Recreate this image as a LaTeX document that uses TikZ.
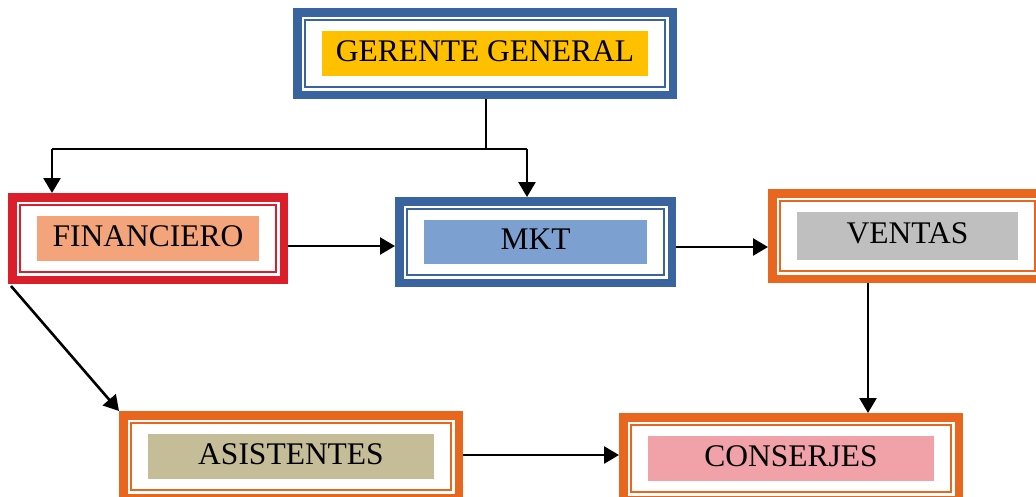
\documentclass[tikz,border=0pt]{standalone}
\usepackage{fontspec}
\setmainfont{Liberation Serif}
\usetikzlibrary{arrows.meta}
\definecolor{bandblue}{HTML}{3A64A0}
\definecolor{bandred}{HTML}{DA1F2B}
\definecolor{bandorange}{HTML}{E8661E}
\definecolor{fillgold}{HTML}{FFC000}
\definecolor{fillsalmon}{HTML}{F4A47A}
\definecolor{fillblue}{HTML}{7CA0D0}
\definecolor{fillgray}{HTML}{BFBFBF}
\definecolor{filltan}{HTML}{C4BD97}
\definecolor{fillpink}{HTML}{F0A2A8}
% #1 name, #2 cx, #3 cy, #4 outer width, #5 outer height, #6 band colour, #7 fill colour, #8 text
\newcommand\orgbox[8]{%
  \node[band=#6, minimum width={#4pt-8.5pt}, minimum height={#5pt-8.5pt}] (#1) at (#2,#3) {};
  \node[innerline=#6, minimum width={#4pt-24pt}, minimum height={#5pt-24pt}] (#1i) at (#2,#3) {};
  \node[label=#7, minimum width={#4pt-58pt}, minimum height={#5pt-46pt}] (#1t) at (#2,#3) {#8};
}
\begin{document}
\begin{tikzpicture}[x=1pt,y=-1pt,
  band/.style={draw=#1, line width=8.5pt, rectangle, inner sep=0pt},
  innerline/.style={draw=#1, line width=2.5pt, rectangle, inner sep=0pt},
  label/.style={fill=#1, rectangle, inner sep=0pt, text depth=5pt,
    font=\fontsize{31.5}{36}\selectfont},
  conn/.style={draw=black, line width=2.6pt, -{Triangle[length=15pt,width=17pt]}},
  feed/.style={draw=black, line width=2.2pt}]
\useasboundingbox (0,0) rectangle (1036,496);
\orgbox{ger}{485}{53.5}{384}{91}{bandblue}{fillgold}{GERENTE GENERAL}
\orgbox{fin}{148}{238.5}{280}{91}{bandred}{fillsalmon}{FINANCIERO}
\orgbox{mkt}{535.5}{242}{281}{90}{bandblue}{fillblue}{MKT}
\orgbox{ven}{907.5}{236}{279}{94}{bandorange}{fillgray}{VENTAS}
\orgbox{asi}{291}{456.5}{344}{91}{bandorange}{filltan}{ASISTENTES}
\orgbox{con}{791}{458.5}{344}{91}{bandorange}{fillpink}{CONSERJES}
\coordinate (split) at (486,149);
\coordinate (hL) at (52,149);
\coordinate (hR) at (527,149);
\draw[feed] (ger.south -| split) -- (split);
\draw[feed] (hL) -- (hR);
\draw[conn] (hL) -- (hL |- fin.north);
\draw[conn] (hR) -- (hR |- mkt.north);
\draw[conn] ([yshift=-7.5pt]fin.east) -- ([yshift=-4pt]mkt.west);
\draw[conn] ([yshift=-5pt]mkt.east) -- ([yshift=-11pt]ven.west);
\draw[conn] ([xshift=-39.5pt]ven.south) -- ([xshift=77pt]con.north);
\draw[conn] ([xshift=3pt,yshift=-2pt]fin.south west) -- (asi.north west);
\draw[conn] ([yshift=1.5pt]asi.east) -- ([yshift=3.5pt]con.west);
\end{tikzpicture}
\end{document}
